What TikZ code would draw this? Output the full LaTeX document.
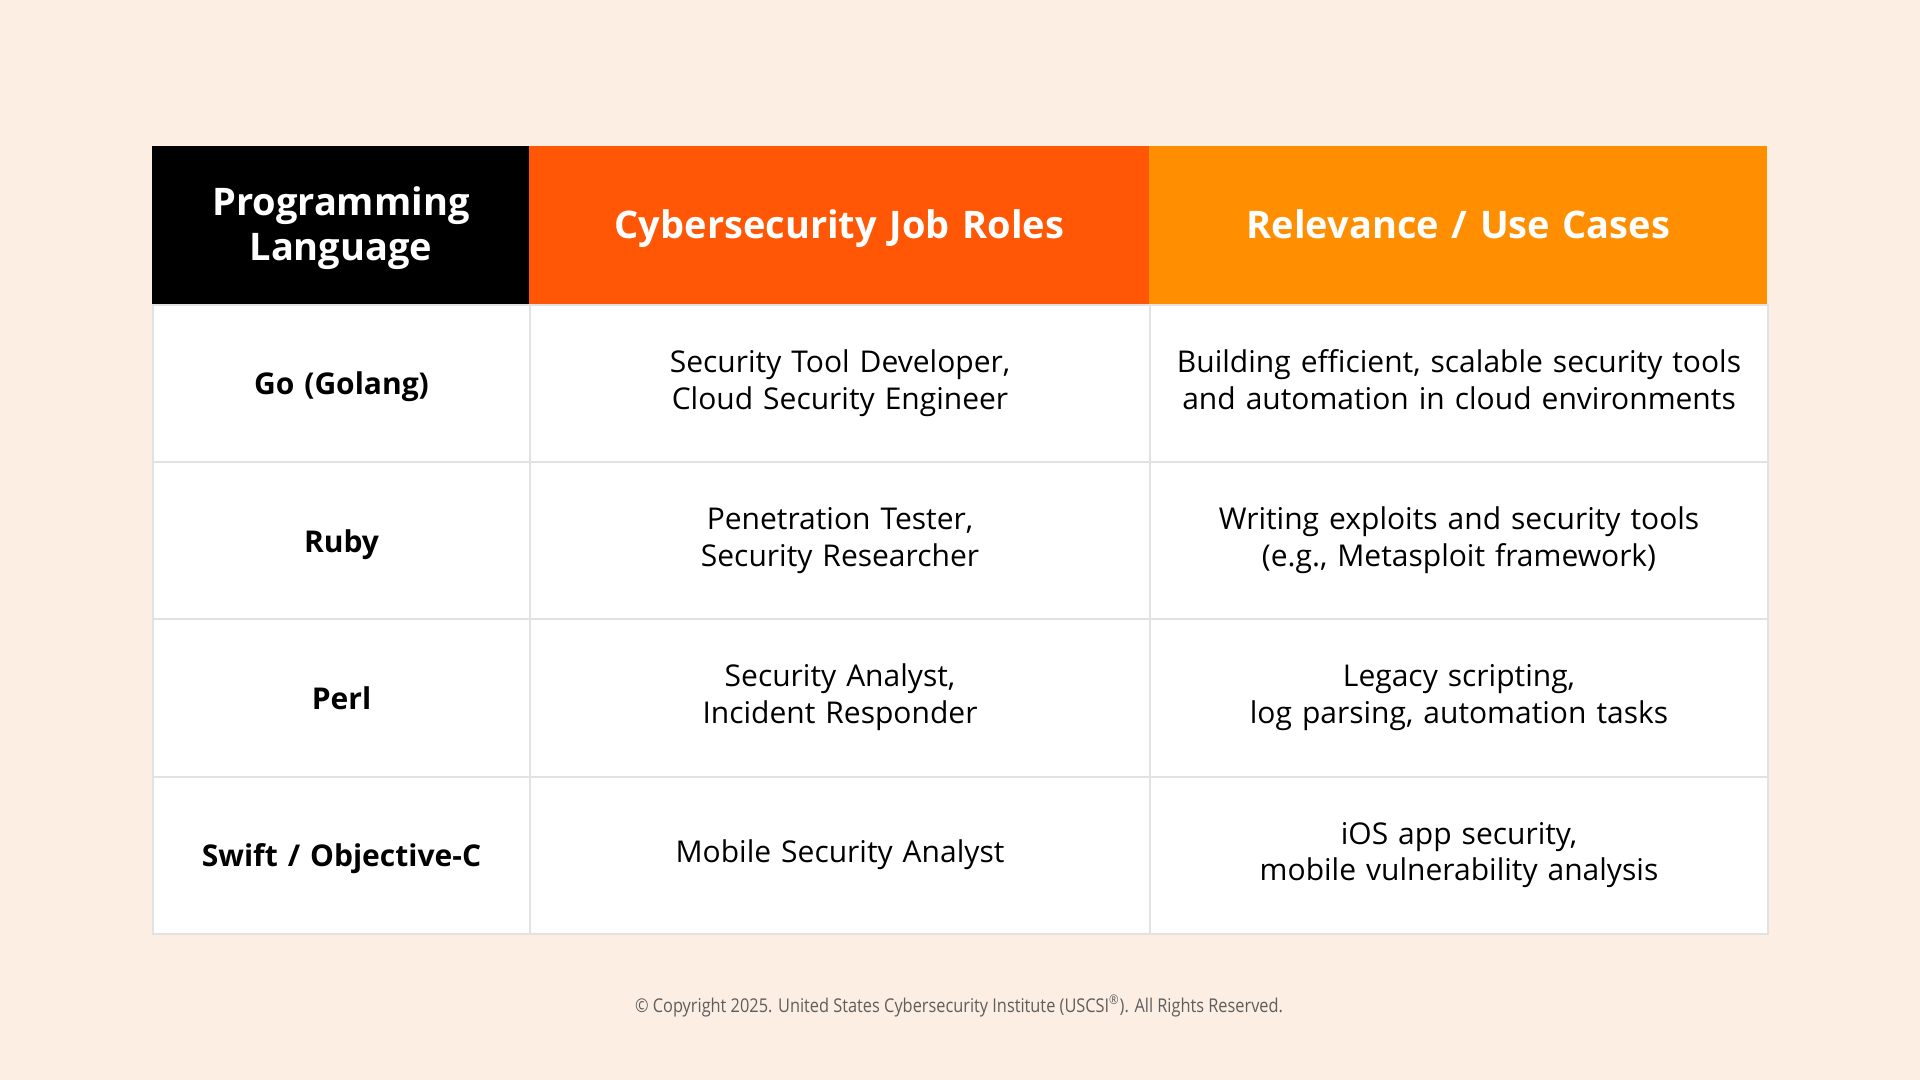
\documentclass[tikz,border=0pt]{standalone}
\usepackage{fontspec}
\setmainfont{Open Sans}
\newfontfamily\headfont{Open Sans}[WordSpace=0.65]
\newfontfamily\footfont{Open Sans}[FakeStretch=0.86]
\definecolor{bg}{HTML}{FDEEE3}
\definecolor{hdblack}{HTML}{000000}
\definecolor{hdorange}{HTML}{FF5705}
\definecolor{hdamber}{HTML}{FF8F00}
\definecolor{gridgray}{HTML}{E2E2E2}
\definecolor{foot}{HTML}{5E5E5E}
\tikzset{
  cellbox/.style={rectangle, anchor=north west, inner xsep=0pt, inner ysep=0pt,
    minimum height=78.6pt, align=center, fill=white, draw=gridgray, line width=1pt,
    font=\fontsize{15}{18.4}\selectfont, text=black,
    execute at begin node=\strut, execute at end node=\strut},
  labelbox/.style={cellbox, font=\bfseries\fontsize{15}{18.4}\selectfont,
    execute at begin node=\rule{0pt}{16.9pt}},
  headbox/.style={rectangle, anchor=north west, inner xsep=0pt, inner ysep=0pt,
    minimum height=79pt, align=center, text=white,
    font=\headfont\bfseries\fontsize{19}{22.6}\selectfont,
    execute at begin node=\rule{0pt}{19.5pt}, execute at end node=\strut},
  colA/.style={text width=188.5pt},
  colB/.style={text width=310pt},
  colC/.style={text width=309pt},
}
\begin{document}
\begin{tikzpicture}[x=0.5pt,y=-0.5pt]
\fill[bg] (0,0) rectangle (1920,1080);
\useasboundingbox (0,0) rectangle (1920,1080);
% header
\node[headbox,colA,fill=hdblack] (h1) at (152,146) {Programming\\Language};
\node[headbox,colB,fill=hdorange] (h2) at (529,146) {Cybersecurity Job Roles};
\node[headbox,colC,fill=hdamber] (h3) at (1149,146) {Relevance / Use Cases};
% row 1
\node[labelbox,colA] (a1) at (152,304) {Go (Golang)};
\node[cellbox,colB] (b1) at (529,304) {Security Tool Developer,\\Cloud Security Engineer};
\node[cellbox,colC] (c1) at (1149,304) {Building efficient, scalable security tools\\and automation in cloud environments};
% row 2
\node[labelbox,colA] (a2) at (152,461.2) {Ruby};
\node[cellbox,colB] (b2) at (529,461.2) {Penetration Tester,\\Security Researcher};
\node[cellbox,colC] (c2) at (1149,461.2) {Writing exploits and security tools\\(e.g., Metasploit framework)};
% row 3
\node[labelbox,colA] (a3) at (152,618.4) {Perl};
\node[cellbox,colB] (b3) at (529,618.4) {Security Analyst,\\Incident Responder};
\node[cellbox,colC] (c3) at (1149,618.4) {Legacy scripting,\\log parsing, automation tasks};
% row 4
\node[labelbox,colA] (a4) at (152,775.6) {Swift / Objective-C};
\node[cellbox,colB] (b4) at (529,775.6) {Mobile Security Analyst};
\node[cellbox,colC] (c4) at (1149,775.6) {iOS app security,\\mobile vulnerability analysis};
% footer
\node[text=foot, font=\footfont\fontsize{9.5}{11}\selectfont, inner sep=0pt] (ft) at (959,1006)
  {\textcopyright{} Copyright 2025. United States Cybersecurity Institute (USCSI\textsuperscript{\textregistered}). All Rights Reserved.};
\end{tikzpicture}
\end{document}
